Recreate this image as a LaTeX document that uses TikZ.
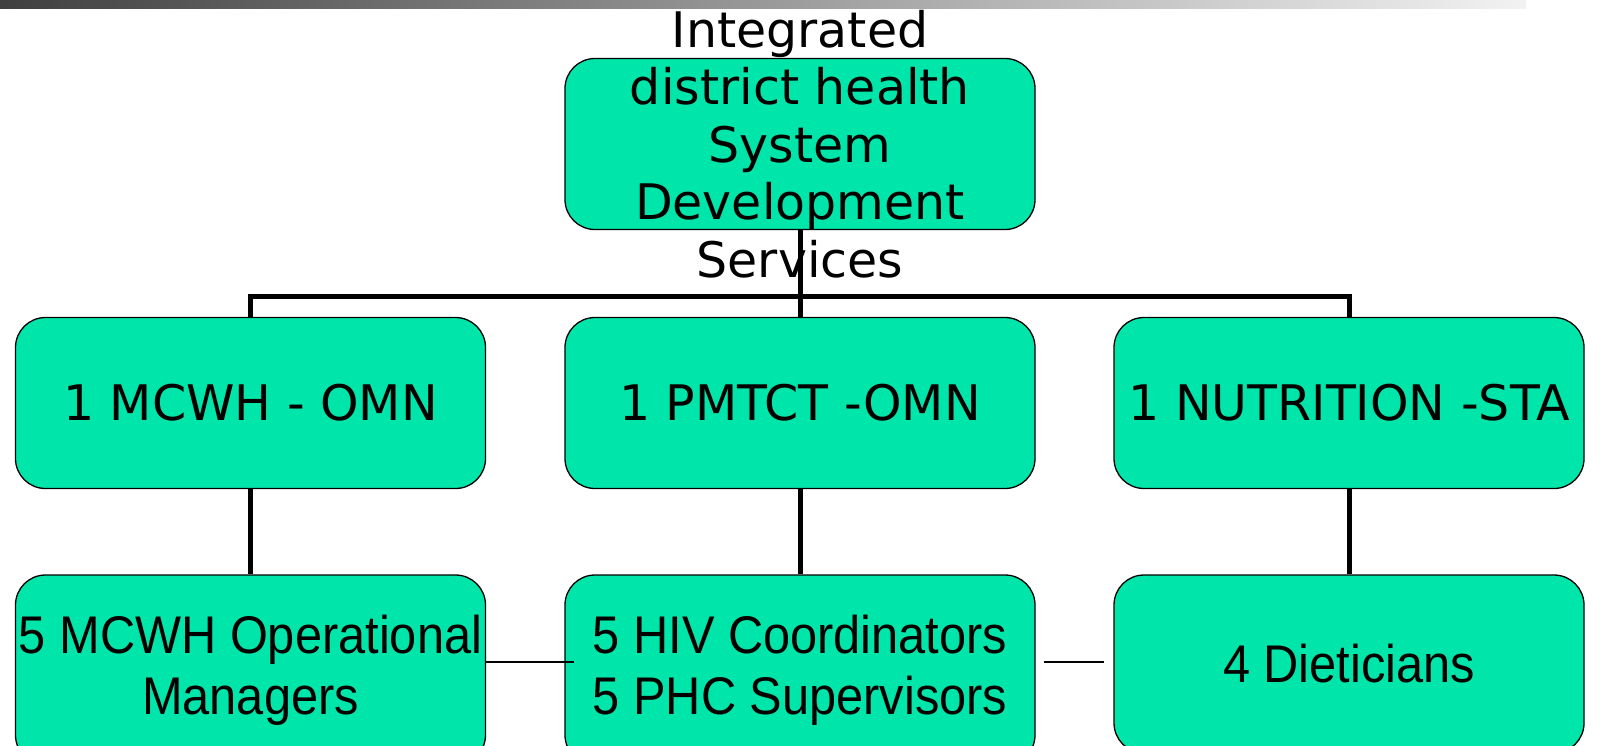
\documentclass[tikz,border=0pt]{standalone}
\usepackage{fontspec}
\setmainfont{DejaVu Sans}
\newfontfamily\narrowfont[FakeStretch=0.92]{Liberation Sans}

\definecolor{boxgreen}{HTML}{00E6AA}

\tikzset{
  orgbox/.style={draw=black, line width=1.3pt, fill=boxgreen, rounded corners=30pt,
    minimum width=470pt, minimum height=171pt, inner sep=0pt, align=center},
  toptext/.style={font=\fontsize{49}{57.5}\selectfont, align=center, inner sep=0pt},
  headtext/.style={font=\fontsize{49}{57.5}\selectfont},
  stafftext/.style={font=\narrowfont\fontsize{53}{61}\selectfont, minimum height=190pt},
  link/.style={line width=5pt},
  thinlink/.style={line width=1.3pt},
}

\begin{document}
\begin{tikzpicture}[x=1pt,y=-1pt]
  \useasboundingbox (0,0) rectangle (1602,745);
  \clip (0,0) rectangle (1602,745);
  % fading strip along the top edge
  \shade[left color=black!75, right color=black!5] (0,0) rectangle (1526,8);

  % the three levels
  \node[orgbox] (top) at (800,144) {};
  \node[orgbox, headtext] (mcwh) at (250.5,403) {1 MCWH - OMN};
  \node[orgbox, headtext] (pmtct) at (800,403) {1 PMTCT -OMN};
  \node[orgbox, headtext] (nutr) at (1349,403) {1 NUTRITION -STA};
  \node[orgbox, stafftext] (mgrs) at (250.5,670) {5 MCWH Operational\\Managers};
  \node[orgbox, stafftext] (hiv) at (800,670) {5 HIV Coordinators\\5 PHC Supervisors};
  \node[orgbox, stafftext, minimum height=178pt] (diet) at (1349,664) {4 Dieticians};
  \node[toptext] (title) at (top.center)
    {Integrated\\district health\\System\\Development\\Services};

  % tree lines
  \coordinate (bus) at (800,296);
  \draw[link] (top.south) -- (pmtct.north);
  \draw[link] (mcwh.north) |- (bus) -| (nutr.north);
  \foreach \a/\b in {mcwh/mgrs, pmtct/hiv, nutr/diet}
    \draw[link] (\a.south) -- (\b.north);
  \draw[thinlink, shorten >=-10pt] ([yshift=8pt]mgrs.east) -- ([yshift=8pt]hiv.west);
  \draw[thinlink, shorten <=8pt, shorten >=9pt]
    ([yshift=8pt]hiv.east) -- ([yshift=8pt]hiv.east -| diet.west);
\end{tikzpicture}
\end{document}
